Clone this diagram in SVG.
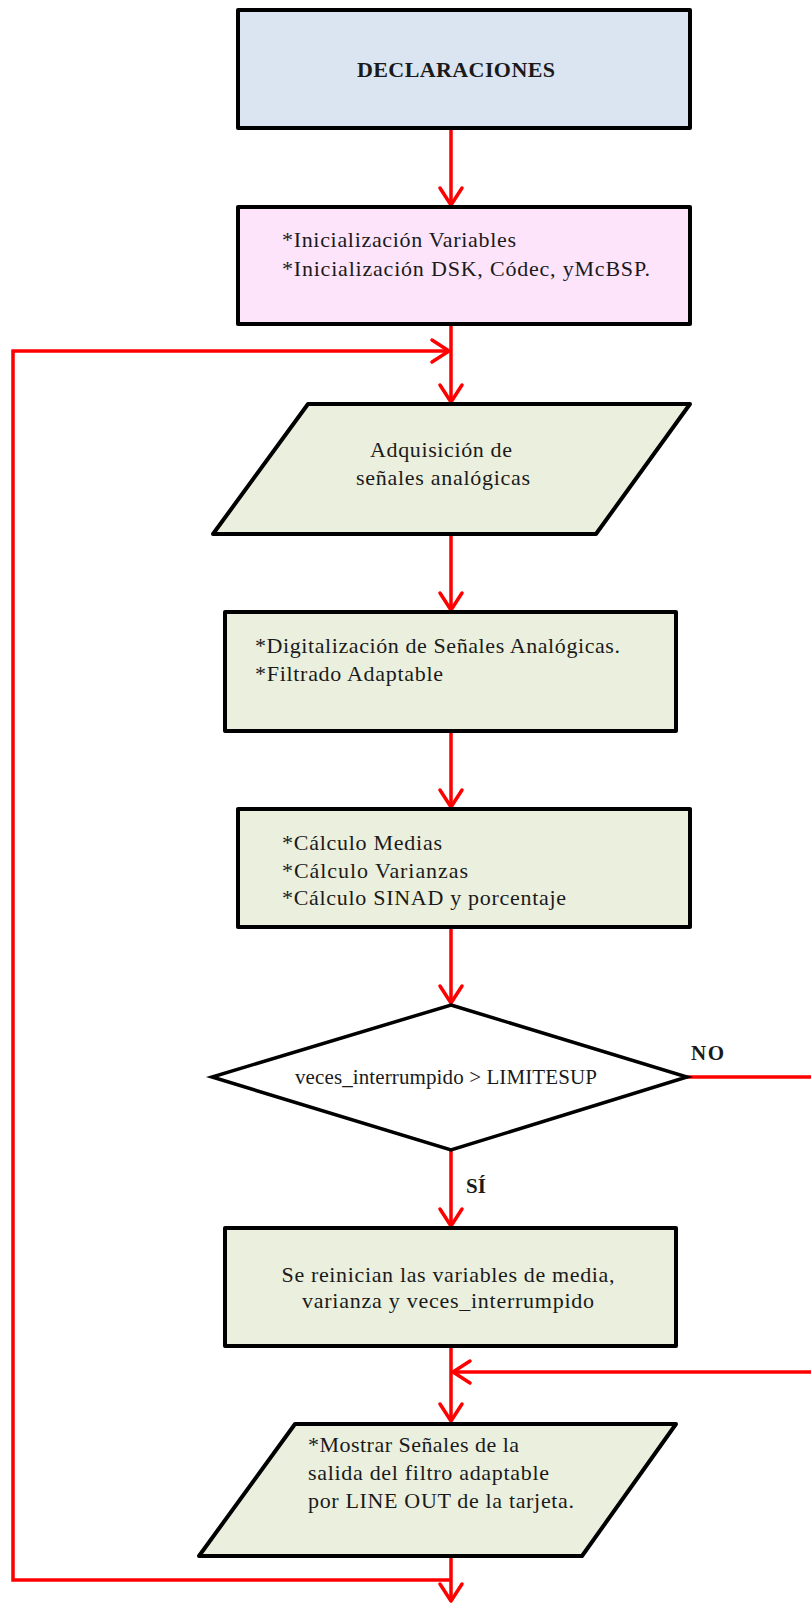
<svg xmlns="http://www.w3.org/2000/svg" width="811" height="1604" viewBox="0 0 811 1604">
<style>
.node{stroke:#000;stroke-width:4;stroke-linejoin:round}
.blue{fill:#dbe5f1}
.pink{fill:#fde4fa}
.green{fill:#ebf0de}
.dia{fill:#fff;stroke:#000;stroke-width:3.5;stroke-linejoin:miter}
.t{font-family:"Liberation Serif","Times New Roman",serif;font-size:22px;fill:#1a1a1a}
.d{font-size:21px}
.b{font-weight:bold}
.c{text-anchor:middle}
.con{fill:none;stroke:#ff0000;stroke-width:3.5}
</style>
<defs>
<marker id="arr" markerUnits="userSpaceOnUse" markerWidth="30" markerHeight="30" viewBox="-20 -15 24 30" refX="0" refY="0" orient="auto">
<path d="M-17,-11 L0,0 L-17,11" fill="none" stroke="#ff0000" stroke-width="3.5" stroke-linecap="round" stroke-linejoin="round"/>
</marker>
</defs>
<rect width="811" height="1604" fill="#fff"/>
<g id="connectors">
<path class="con" d="M451,129 V205" marker-end="url(#arr)"/>
<path class="con" d="M451,325 V402" marker-end="url(#arr)"/>
<path class="con" d="M451,1580 H13 V351 H449" marker-end="url(#arr)"/>
<path class="con" d="M451,534 V610" marker-end="url(#arr)"/>
<path class="con" d="M451,731 V807" marker-end="url(#arr)"/>
<path class="con" d="M451,927 V1003" marker-end="url(#arr)"/>
<path class="con" d="M451,1150 V1226" marker-end="url(#arr)"/>
<path class="con" d="M687,1077 H811"/>
<path class="con" d="M811,1372 H453" marker-end="url(#arr)"/>
<path class="con" d="M451,1346 V1421" marker-end="url(#arr)"/>
<path class="con" d="M451,1556 V1601" marker-end="url(#arr)"/>
<text class="t d b" x="691" y="1060" textLength="33">NO</text>
<text class="t d b" x="466" y="1193">SÍ</text>
</g>
<g id="declaraciones">
<rect class="node blue" x="238" y="10" width="452" height="118"/>
<text class="t b c" x="456" y="77" textLength="198">DECLARACIONES</text>
</g>
<g id="inicializacion">
<rect class="node pink" x="238" y="207" width="452" height="117"/>
<text class="t" x="282" y="247" textLength="234">*Inicialización Variables</text>
<text class="t" x="282" y="276" textLength="368">*Inicialización DSK, Códec, yMcBSP.</text>
</g>
<g id="adquisicion">
<polygon class="node green" points="308,404 690,404 596,534 213,534"/>
<text class="t c" x="441" y="457" textLength="142">Adquisición de</text>
<text class="t c" x="443" y="485" textLength="174">señales analógicas</text>
</g>
<g id="digitalizacion">
<rect class="node green" x="225" y="612" width="451" height="119"/>
<text class="t" x="255" y="653" textLength="365">*Digitalización de Señales Analógicas.</text>
<text class="t" x="255" y="681" textLength="188">*Filtrado Adaptable</text>
</g>
<g id="calculo">
<rect class="node green" x="238" y="809" width="452" height="118"/>
<text class="t" x="282" y="850" textLength="160">*Cálculo Medias</text>
<text class="t" x="282" y="878" textLength="186">*Cálculo Varianzas</text>
<text class="t" x="282" y="905" textLength="284">*Cálculo SINAD  y porcentaje</text>
</g>
<g id="decision">
<polygon class="dia" points="451,1005 687,1077 451,1150 212,1077"/>
<text class="t d" x="295" y="1084" textLength="302">veces_interrumpido &gt; LIMITESUP</text>
</g>
<g id="reinicio">
<rect class="node green" x="225" y="1228" width="451" height="118"/>
<text class="t c" x="448" y="1282" textLength="333">Se reinician las variables de media,</text>
<text class="t c" x="448" y="1308" textLength="292">varianza y veces_interrumpido</text>
</g>
<g id="mostrar">
<polygon class="node green" points="295,1424 676,1424 582,1556 199,1556"/>
<text class="t" x="308" y="1452" textLength="211">*Mostrar Señales de la</text>
<text class="t" x="308" y="1480" textLength="241">salida del filtro  adaptable</text>
<text class="t" x="308" y="1508" textLength="266">por LINE OUT  de la tarjeta.</text>
</g>
</svg>
